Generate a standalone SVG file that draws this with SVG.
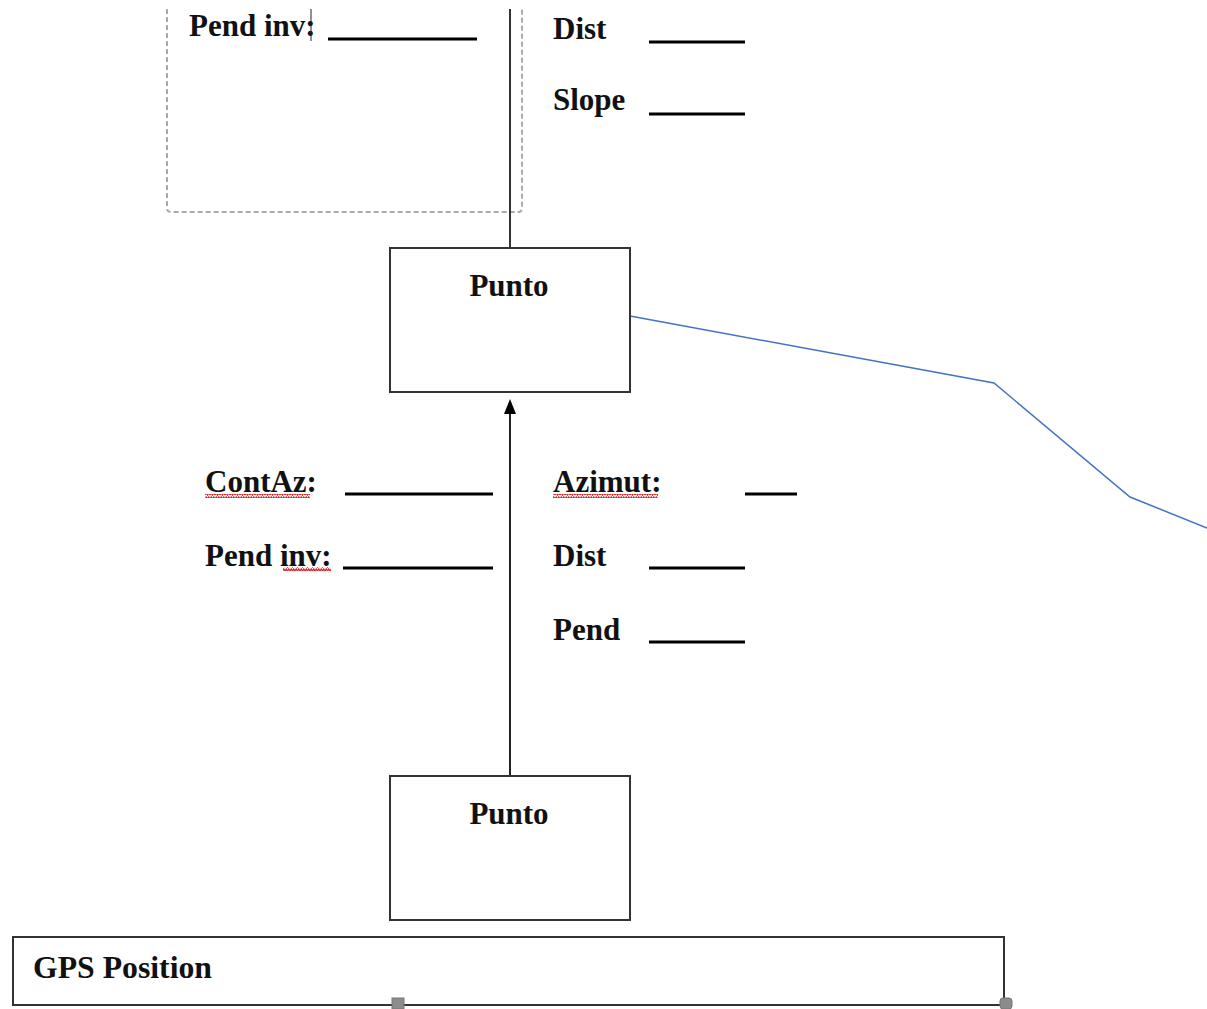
<svg xmlns="http://www.w3.org/2000/svg" width="1207" height="1009" viewBox="0 0 1207 1009">
<style>
.t{font-family:"Liberation Serif","Times New Roman",serif;font-weight:bold;font-size:31px;fill:#111}
.box{fill:#fff;stroke:#333;stroke-width:2}
.ul{stroke:#000;stroke-width:3}
.handle{fill:#8c8c8c;stroke:#777;stroke-width:1}
</style>
<defs>
<pattern id="wave" width="5" height="4" patternUnits="userSpaceOnUse">
<path d="M0,3 L1.25,1 L2.5,3 L3.75,1 L5,3" fill="none" stroke="#e02020" stroke-width="1.3"/>
</pattern>
</defs>
<rect width="1207" height="1009" fill="#fff"/>

<g id="dashed-frame">
<path d="M167,9 V208 Q167,212 171,212 H518 Q522,212 522,208 V9" fill="none" stroke="#aaa" stroke-width="2" stroke-dasharray="5,3"/>
</g>

<g id="connectors">
<line x1="510" y1="9" x2="510" y2="248" stroke="#333" stroke-width="2"/>
<line x1="510" y1="776" x2="510" y2="412" stroke="#222" stroke-width="2"/>
<path d="M504,414 L510,399 L516,414 Z" fill="#000"/>
<polyline points="630,316 994,383 1130,497 1207,528" fill="none" stroke="#4472C4" stroke-width="1.5"/>
</g>

<g id="top-labels">
<text class="t" x="189" y="36">Pend inv:</text>
<line x1="311" y1="9" x2="311" y2="41" stroke="#222" stroke-width="1"/>
<line class="ul" x1="328" y1="39" x2="477" y2="39"/>
<text class="t" x="553" y="39">Dist</text>
<line class="ul" x1="649" y1="42" x2="745" y2="42"/>
<text class="t" x="553" y="110">Slope</text>
<line class="ul" x1="649" y1="114" x2="745" y2="114"/>
</g>

<g id="punto-1">
<rect class="box" x="390" y="248" width="240" height="144"/>
<text class="t" x="509" y="296" text-anchor="middle">Punto</text>
</g>

<g id="mid-labels">
<text class="t" x="205" y="492">ContAz:</text>
<rect x="205" y="494" width="105" height="4" fill="url(#wave)"/>
<line class="ul" x1="345" y1="494" x2="493" y2="494"/>
<text class="t" x="205" y="566">Pend inv:</text>
<rect x="283" y="567" width="48" height="4" fill="url(#wave)"/>
<line class="ul" x1="343" y1="568" x2="493" y2="568"/>
<text class="t" x="553" y="492">Azimut:</text>
<rect x="553" y="494" width="105" height="4" fill="url(#wave)"/>
<line class="ul" x1="745" y1="494" x2="797" y2="494"/>
<text class="t" x="553" y="566">Dist</text>
<line class="ul" x1="649" y1="568" x2="745" y2="568"/>
<text class="t" x="553" y="640">Pend</text>
<line class="ul" x1="649" y1="642" x2="745" y2="642"/>
</g>

<g id="punto-2">
<rect class="box" x="390" y="776" width="240" height="144"/>
<text class="t" x="509" y="824" text-anchor="middle">Punto</text>
</g>

<g id="gps-position">
<rect class="box" x="13" y="937" width="991" height="68"/>
<text class="t" x="33" y="978" textLength="179" lengthAdjust="spacingAndGlyphs">GPS Position</text>
<rect class="handle" x="392" y="998" width="12" height="11"/>
<rect class="handle" x="1000" y="998" width="12" height="11" rx="3"/>
</g>
</svg>
